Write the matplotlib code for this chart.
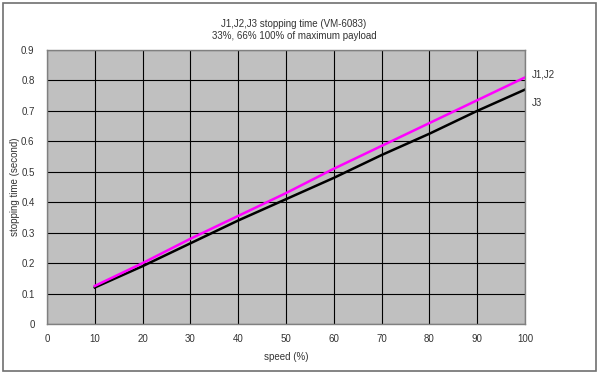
import matplotlib
matplotlib.use("Agg")
import matplotlib.pyplot as plt
from matplotlib.patches import Rectangle

# speed (%) vs stopping time (second)
speed = [10, 20, 30, 40, 50, 60, 70, 80, 90, 100]
j1j2 = [0.125, 0.2, 0.28, 0.355, 0.43, 0.51, 0.585, 0.66, 0.735, 0.81]
j3 = [0.12, 0.19, 0.265, 0.34, 0.41, 0.48, 0.555, 0.625, 0.70, 0.77]

plt.rcParams['font.family'] = ['Liberation Sans', 'DejaVu Sans']
txt = '#333333'

fig = plt.figure(figsize=(6, 3.74), dpi=100)
ax = fig.add_axes([47/600, 50/374, 478/600, 274/374])
ax.set_facecolor('#c0c0c0')

ax.plot(speed, j3, color='black', lw=1.8)
ax.plot(speed, j1j2, color='#ff00ff', lw=1.8)

ax.set_xlim(0, 100)
ax.set_ylim(0, 0.9)
ax.set_xticks(range(0, 101, 10))
ax.set_yticks([i / 10 for i in range(10)])
ax.set_yticklabels(['0'] + ['%.1f' % (i / 10) for i in range(1, 10)])
ax.grid(True, color='black', lw=0.8)
ax.set_axisbelow(True)
ax.tick_params(length=0, labelsize=7, colors=txt)
ax.tick_params(axis='x', pad=7)
ax.tick_params(axis='y', pad=9)
for s in ax.spines.values():
    s.set_color('#808080')
    s.set_linewidth(1)

ax.set_xlabel('speed (%)', fontsize=7, color=txt, labelpad=6)
ax.set_ylabel('stopping time (second)', fontsize=7, color=txt, labelpad=1)

ax.text(101.5, j1j2[-1] + 0.01, 'J1,J2', fontsize=7, color=txt, va='center', clip_on=False)
ax.text(101.5, 0.727, 'J3', fontsize=7, color=txt, va='center', clip_on=False)

fig.text(0.49, 1 - 24/374, 'J1,J2,J3 stopping time (VM-6083)', fontsize=7, color=txt, ha='center', va='center')
fig.text(0.49, 1 - 36/374, '33%, 66% 100% of maximum payload', fontsize=7, color=txt, ha='center', va='center')

fig.patches.append(Rectangle((3/600, 3/374), 593/600, 368/374, transform=fig.transFigure,
                             fill=False, edgecolor='#707070', lw=1.2))

fig.savefig('out.png', dpi=100)
